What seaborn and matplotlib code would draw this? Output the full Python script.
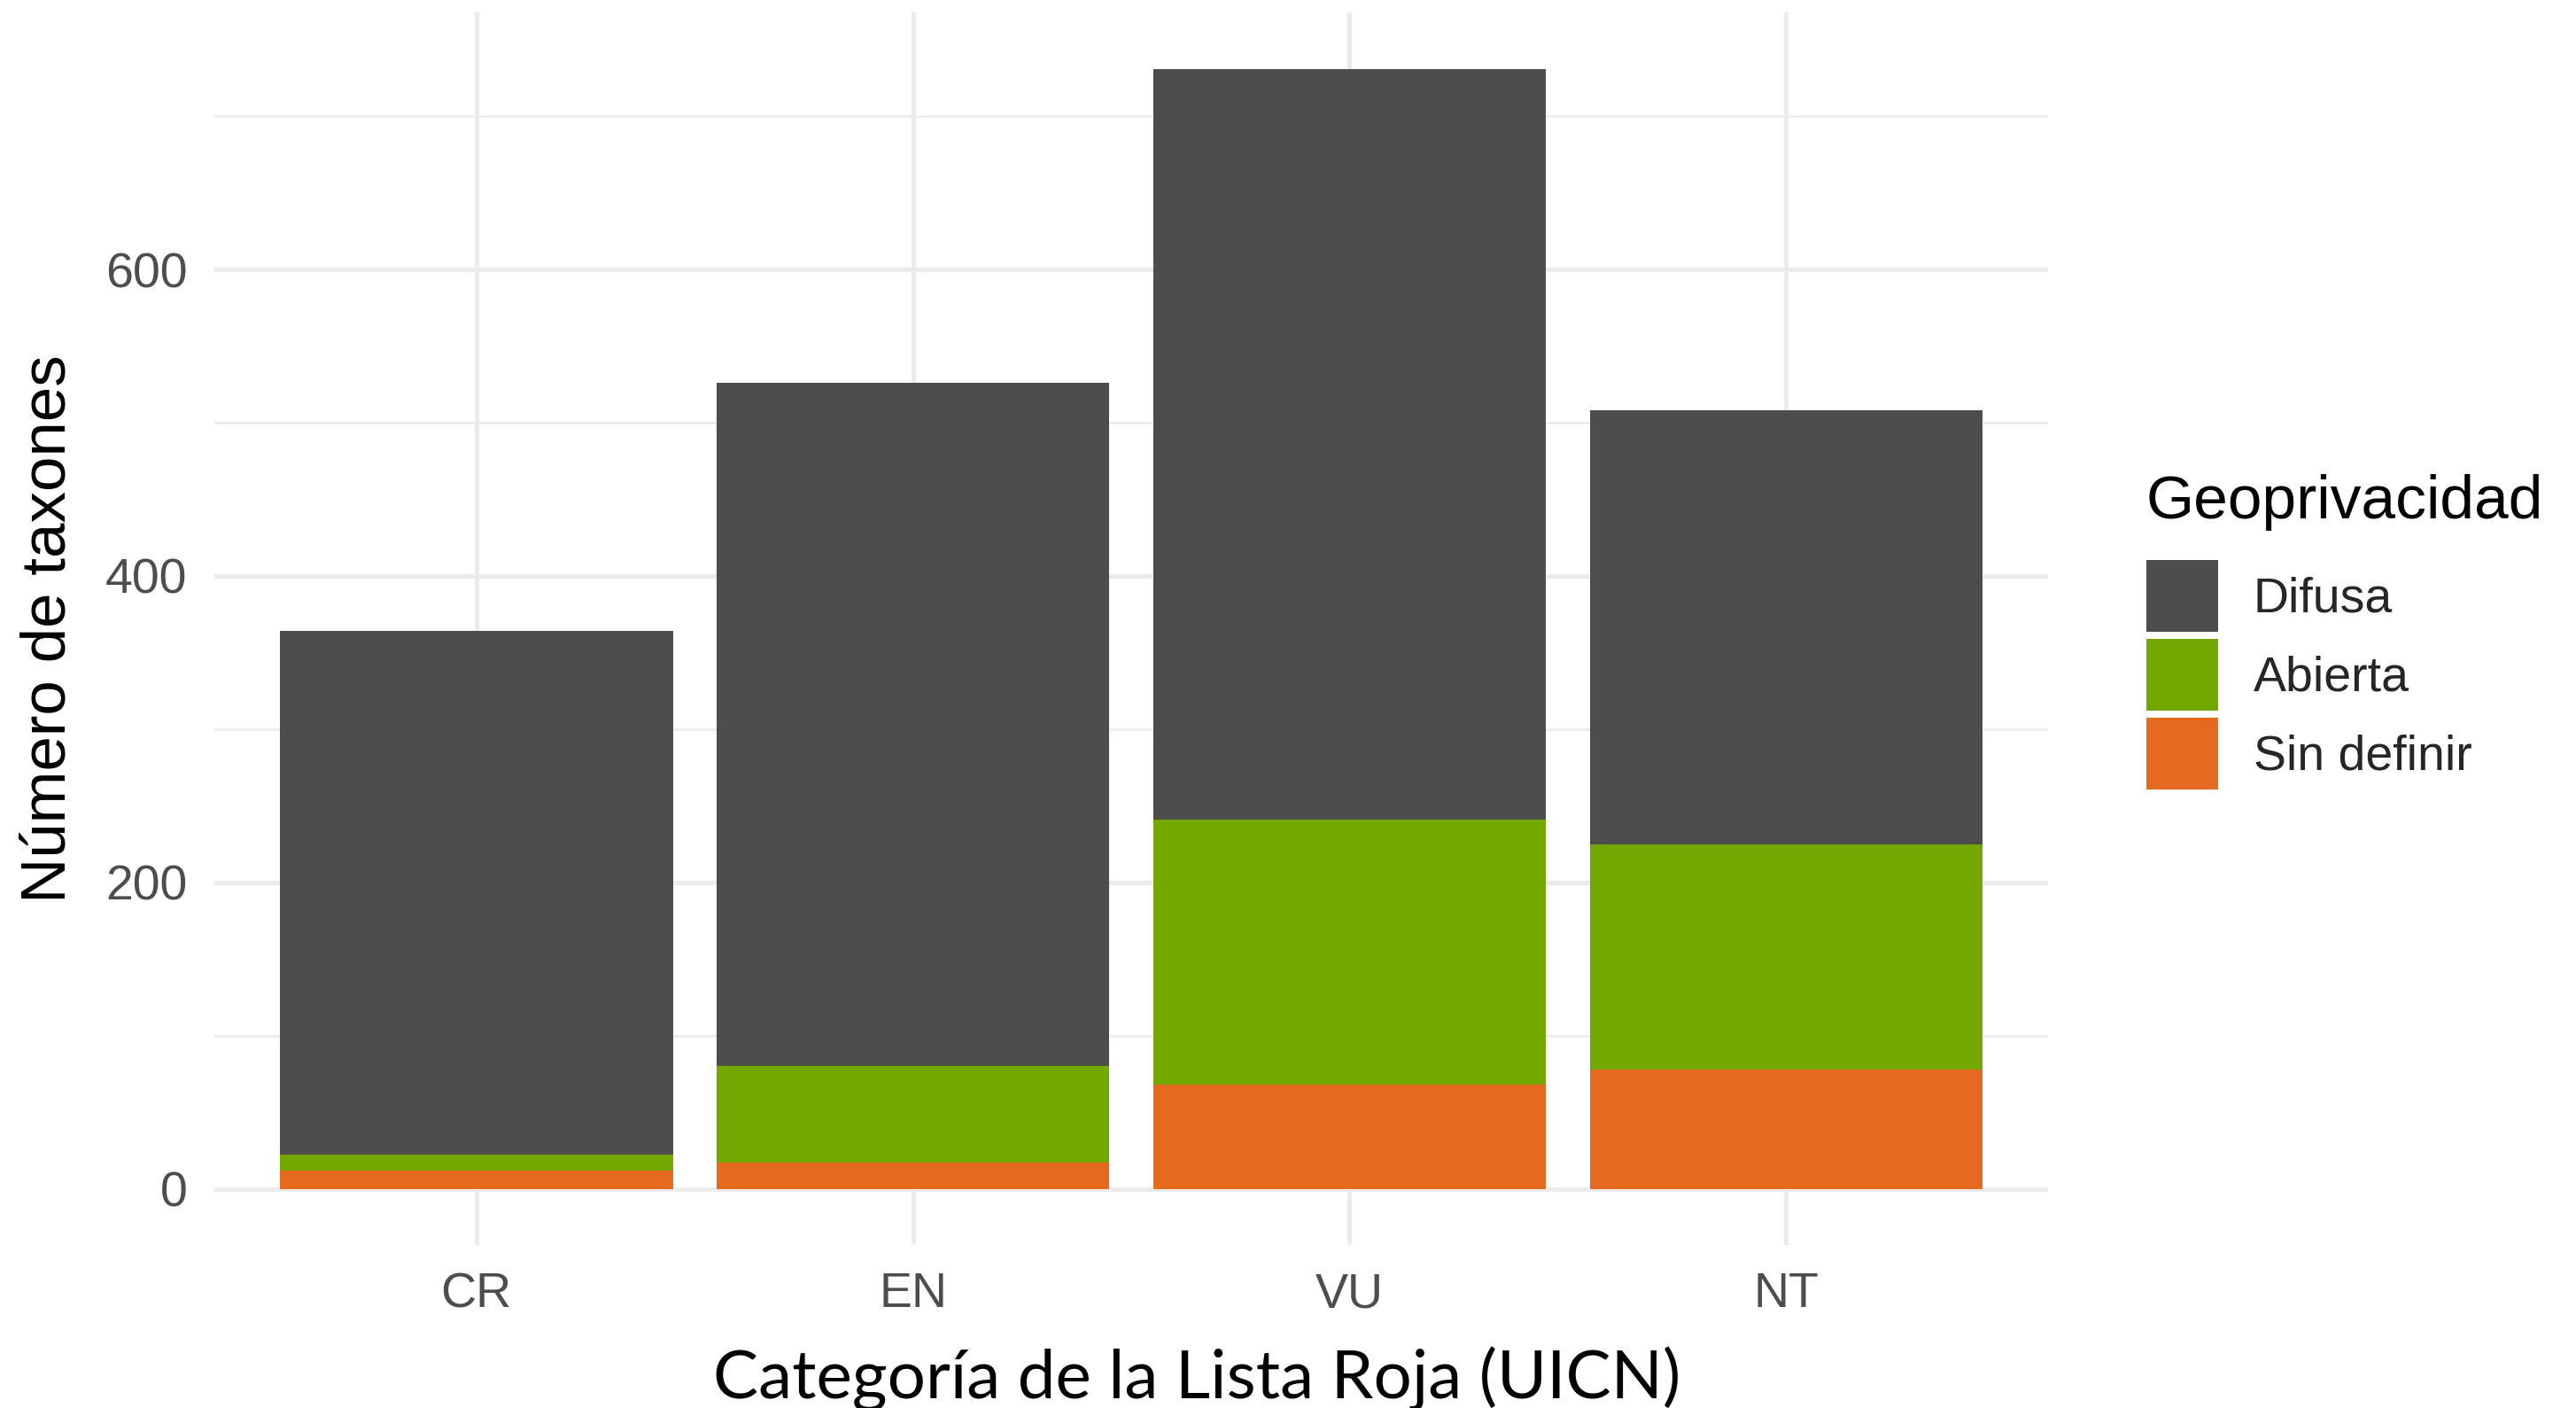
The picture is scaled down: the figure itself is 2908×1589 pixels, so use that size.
import matplotlib
matplotlib.use('Agg')
import matplotlib.pyplot as plt
from matplotlib.patches import Patch
from matplotlib.ticker import MultipleLocator
import numpy as np
import pandas as pd
import seaborn as sns

# IUCN Red List categories on the x axis
categorias = ['CR', 'EN', 'VU', 'NT']
# counts per geoprivacy class
sin_definir = [12, 17, 68, 78]
abierta = [10, 63, 173, 147]
difusa = [342, 446, 490, 283]

grupos = ['Difusa', 'Abierta', 'Sin definir']
colores = {'Difusa': '#4D4D4D', 'Abierta': '#73A800', 'Sin definir': '#E5691F'}

W, H, DPI = 2908, 1589, 200

sns.set_style('whitegrid')
plt.rcParams['font.family'] = ['Liberation Sans', 'DejaVu Sans']

df = pd.DataFrame({
    'categoria': categorias,
    'Sin definir': sin_definir,
    'Abierta': abierta,
    'Difusa': difusa,
})
# stacked heights: draw the tallest first, then paint lower segments on top
df['tope_sin'] = df['Sin definir']
df['tope_abi'] = df['tope_sin'] + df['Abierta']
df['tope_dif'] = df['tope_abi'] + df['Difusa']

fig = plt.figure(figsize=(W / DPI, H / DPI), dpi=DPI)
ax = fig.add_axes([242 / W, 1 - 1404.7 / H, (2312 - 242) / W, (1404.7 - 14.5) / H])

for col, grupo in [('tope_dif', 'Difusa'), ('tope_abi', 'Abierta'), ('tope_sin', 'Sin definir')]:
    sns.barplot(data=df, x='categoria', y=col, order=categorias, color=colores[grupo],
                saturation=1, width=0.9, linewidth=0, ax=ax)

ax.set_xlim(-0.6, 3.6)
ax.set_ylim(-36.55, 767.55)
ax.set_yticks([0, 200, 400, 600])
ax.yaxis.set_minor_locator(MultipleLocator(100))
ax.set_axisbelow(True)
ax.grid(which='major', color='#EBEBEB', linewidth=1.9)
ax.grid(which='minor', axis='y', color='#EBEBEB', linewidth=0.95)
for s in ax.spines.values():
    s.set_visible(False)
ax.tick_params(axis='both', which='both', length=0, labelsize=20, labelcolor='#4D4D4D')
ax.tick_params(axis='y', pad=11)
ax.tick_params(axis='x', pad=11)
ax.set_xlabel('')
ax.set_ylabel('')

fig.text(56 / W, 1 - 709.6 / H, 'Número de taxones', rotation=90, ha='center', va='center',
         fontsize=25.5, color='black')
fig.text(1351 / W, 1 - 1578 / H, 'Categoría de la Lista Roja (UICN)', ha='center', va='baseline',
         fontsize=27.5, color='black', family=['Lato', 'DejaVu Sans'])

# legend (keys ~81 px square, 8 px apart)
handles = [Patch(facecolor=colores[g], edgecolor='none', label=g) for g in grupos]
fig.legend(handles=handles, loc='upper left', bbox_to_anchor=(2423 / W, 1 - 632 / H),
           frameon=False, fontsize=20, borderpad=0, borderaxespad=0,
           handlelength=1.457, handleheight=1.866, labelspacing=0.144, handletextpad=0.72)
fig.text(2423 / W, 1 - 585 / H, 'Geoprivacidad', ha='left', va='baseline', fontsize=25, color='black')

fig.savefig('out.png', dpi=DPI, facecolor='white')
